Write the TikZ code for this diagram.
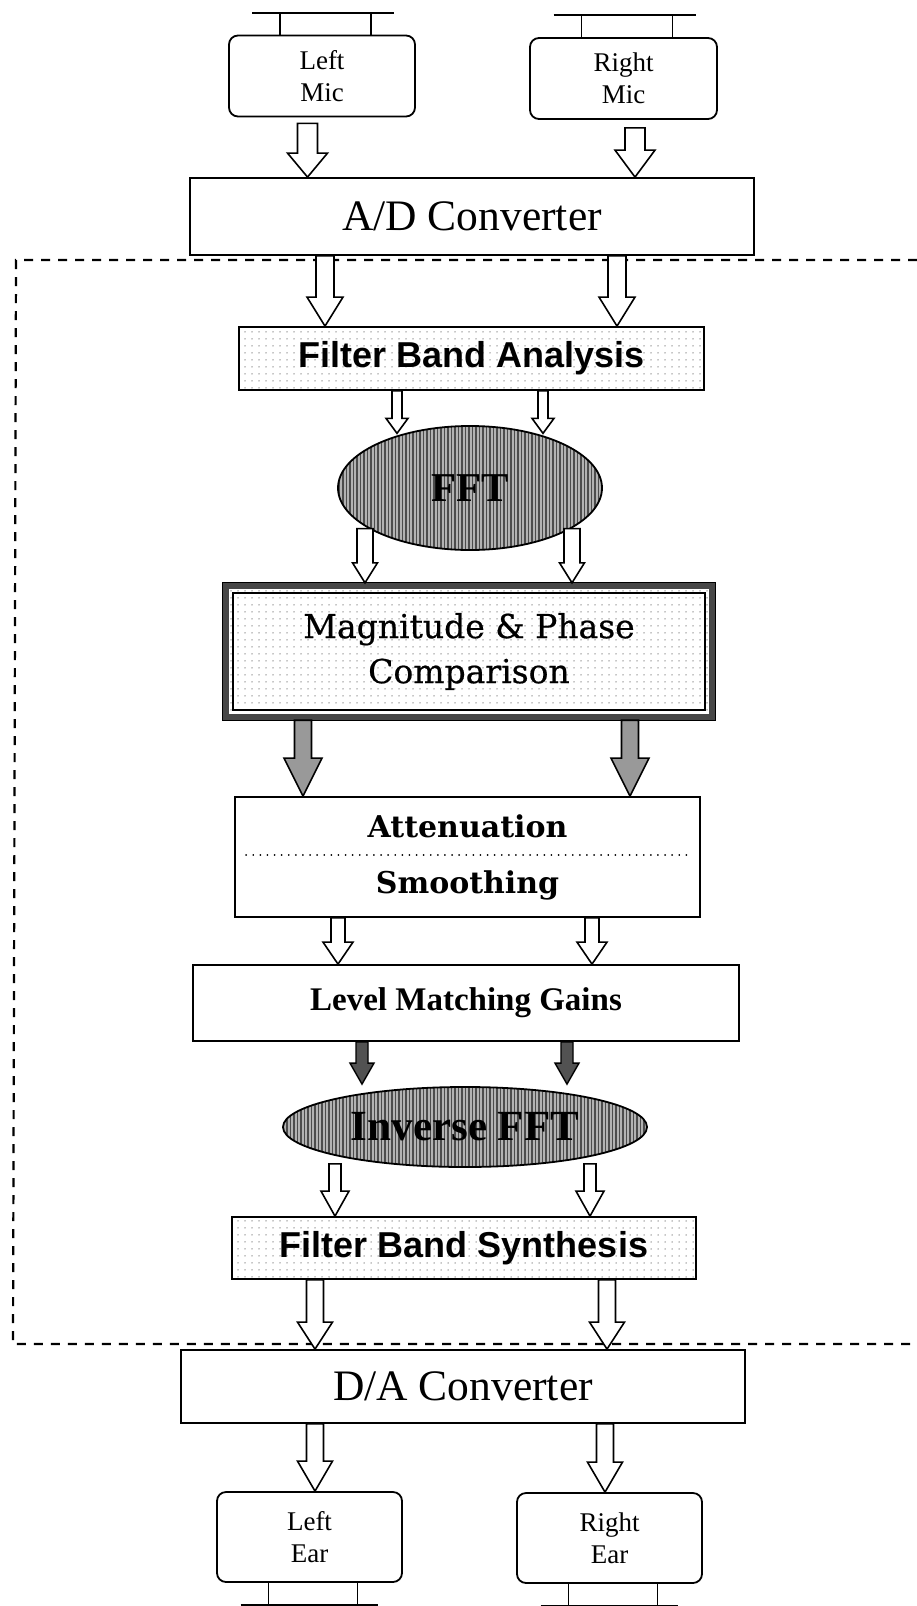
\documentclass[tikz,border=0pt]{standalone}
\usepackage{fontspec}
\setmainfont{Liberation Serif}
\newfontfamily\lsans{Liberation Sans}
\newfontfamily\dvserif{DejaVu Serif}
\newfontfamily\dvserifheavy[FakeBold=0.6]{DejaVu Serif}
\usetikzlibrary{shapes.geometric,patterns.meta,calc}
\tikzset{
  box/.style={draw, line width=1.8pt, inner sep=0pt, align=center},
  micbox/.style={box, rounded corners=9pt},
  stip/.style={pattern={Dots[distance=7pt,radius=0.75pt]}, pattern color=black!45},
  hatch/.style={preaction={fill=black!30}, pattern={Lines[angle=90,distance=3.5pt,line width=1.3pt]}, pattern color=black!70},
  whitearr/.style={draw, fill=white, line width=1.6pt},
  shadearr/.style={draw, fill=black!40, line width=1.6pt},
  darkarr/.style={draw, fill=black!68, line width=1.4pt},
  dashframe/.style={line width=2.2pt, dash pattern=on 9pt off 8pt},
  standline/.style={line width=1.8pt},
  dotline/.style={line width=1.8pt, dash pattern=on 0.1pt off 7pt, line cap=round}
}
% #1 top point, #2 tip point, #3 shaft half width, #4 head half width, #5 head length, #6 style
\newcommand{\barrow}[6]{%
  \draw[#6] let \p1=#1, \p2=#2 in
    (\x1-#3pt,\y1) -- (\x1+#3pt,\y1) -- (\x1+#3pt,\y2+#5pt) -- (\x1+#4pt,\y2+#5pt)
    -- (\x1,\y2) -- (\x1-#4pt,\y2+#5pt) -- (\x1-#3pt,\y2+#5pt) -- cycle;}
\begin{document}
\begin{tikzpicture}[x=1pt,y=-1pt]
\useasboundingbox (0,0) rectangle (917,1606);

% dashed frame
\coordinate (fr1) at (917,260);
\coordinate (fr2) at (16,260);
\coordinate (fr3) at (13,1344);
\coordinate (fr4) at (917,1344);
\draw[dashframe] (fr1) -- (fr2) -- (fr3) -- (fr4);

% microphones
\node[micbox, minimum width=186pt, minimum height=81pt, font=\fontsize{27}{32}\selectfont] (lmic) at (322,76) {Left\\Mic};
\node[micbox, minimum width=187pt, minimum height=81pt, font=\fontsize{27}{32}\selectfont] (rmic) at (623.5,78.5) {Right\\Mic};
\foreach \m in {lmic,rmic}{
  \draw[standline] ([xshift=-42pt]\m.north) -- ++(0,-22);
  \draw[standline] ([xshift=49pt]\m.north) -- ++(0,-22);
  \draw[standline] ([xshift=-70pt,yshift=22pt]\m.north) -- ([xshift=72pt,yshift=22pt]\m.north);
}

% main blocks
\node[box, fill=white, minimum width=564pt, minimum height=77pt, font=\fontsize{43.5}{50}\selectfont] (ad) at (472,216.5) {A/D Converter};
\node[box, stip, minimum width=465pt, minimum height=63pt, font=\lsans\bfseries\fontsize{36}{40}\selectfont] (fba) at (471.5,358.5) {Filter Band Analysis};
\node[draw, line width=1.8pt, ellipse, hatch, inner sep=0pt, minimum width=264pt, minimum height=124pt, font=\bfseries\fontsize{41}{46}\selectfont] (fft) at (470,488) {FFT};
\node[stip, inner sep=0pt, align=center, minimum width=492pt, minimum height=137pt, font=\dvserifheavy\fontsize{33}{45}\selectfont] (mag) at (469,651.5) {Magnitude \& Phase\\Comparison};
\draw[line width=1pt] (mag.north west) rectangle (mag.south east);
\draw[line width=6pt, black!72] ([shift={(3.5pt,-3.5pt)}]mag.north west) rectangle ([shift={(-3.5pt,3.5pt)}]mag.south east);
\draw[line width=1.5pt] ([shift={(10pt,-10pt)}]mag.north west) rectangle ([shift={(-10pt,10pt)}]mag.south east);

\node[box, minimum width=465pt, minimum height=120pt] (att) at (467.5,857) {};
\node[anchor=base, inner sep=0pt, font=\dvserif\bfseries\fontsize{30}{34}\selectfont] (attA) at (467.5,837) {Attenuation};
\node[anchor=base, inner sep=0pt, font=\dvserif\bfseries\fontsize{30}{34}\selectfont] (attB) at (467.5,893) {Smoothing};
\draw[dotline] ([xshift=12pt,yshift=2pt]att.west) -- ([xshift=-10pt,yshift=2pt]att.east);

\node[box, minimum width=546pt, minimum height=76pt, font=\bfseries\fontsize{33}{38}\selectfont] (lmg) at (466,1003) {Level Matching Gains};
\node[draw, line width=1.8pt, ellipse, hatch, inner sep=0pt, minimum width=364pt, minimum height=80pt, font=\bfseries\fontsize{43}{48}\selectfont] (ifft) at (465,1127) {Inverse FFT};
\node[box, stip, minimum width=464pt, minimum height=62pt, font=\lsans\bfseries\fontsize{36}{40}\selectfont] (fbs) at (464,1248) {Filter Band Synthesis};
\node[box, fill=white, minimum width=564pt, minimum height=73pt, font=\fontsize{43.5}{50}\selectfont] (da) at (463,1386.5) {D/A Converter};

% ears
\node[micbox, minimum width=185pt, minimum height=90pt, font=\fontsize{27}{32}\selectfont] (lear) at (309.5,1537) {Left\\Ear};
\node[micbox, minimum width=185pt, minimum height=90pt, font=\fontsize{27}{32}\selectfont] (rear) at (609.5,1538) {Right\\Ear};
\foreach \m in {lear,rear}{
  \draw[standline] ([xshift=-41pt]\m.south) -- ++(0,22);
  \draw[standline] ([xshift=48pt]\m.south) -- ++(0,22);
  \draw[standline] ([xshift=-69pt,yshift=-22pt]\m.south) -- ([xshift=68pt,yshift=-22pt]\m.south);
}

% arrows
\barrow{([xshift=-14.5pt,yshift=-6pt]lmic.south)}{(ad.north)}{10}{20}{24}{whitearr}
\barrow{([xshift=11.5pt,yshift=-8pt]rmic.south)}{(ad.north)}{10}{20}{27}{whitearr}
\barrow{([xshift=-147pt]ad.south)}{(fba.north)}{9}{18}{29}{whitearr}
\barrow{([xshift=145pt]ad.south)}{(fba.north)}{9}{18}{29}{whitearr}
\barrow{([xshift=-74.5pt]fba.south)}{([yshift=-8pt]fft.north)}{5}{11}{15}{whitearr}
\barrow{([xshift=71.5pt]fba.south)}{([yshift=-8pt]fft.north)}{5}{11}{15}{whitearr}
\barrow{([xshift=-105pt,yshift=22pt]fft.south)}{(mag.north)}{8}{12.5}{20}{whitearr}
\barrow{([xshift=102pt,yshift=22pt]fft.south)}{(mag.north)}{8}{12.5}{20}{whitearr}
\barrow{([xshift=-166pt]mag.south)}{(att.north)}{8.5}{19}{38}{shadearr}
\barrow{([xshift=161pt]mag.south)}{(att.north)}{8.5}{19}{38}{shadearr}
\barrow{([xshift=-129.5pt]att.south)}{(lmg.north)}{7}{15}{22}{whitearr}
\barrow{([xshift=124.5pt]att.south)}{(lmg.north)}{7}{15}{22}{whitearr}
\barrow{([xshift=-104pt]lmg.south)}{([yshift=2pt]ifft.north)}{6}{12}{21}{darkarr}
\barrow{([xshift=101pt]lmg.south)}{([yshift=2pt]ifft.north)}{6}{12}{21}{darkarr}
\barrow{([xshift=-130pt,yshift=4pt]ifft.south)}{(fbs.north)}{6}{14}{25}{whitearr}
\barrow{([xshift=125pt,yshift=4pt]ifft.south)}{(fbs.north)}{6}{14}{25}{whitearr}
\barrow{([xshift=-149pt]fbs.south)}{(da.north)}{8.5}{17.5}{27}{whitearr}
\barrow{([xshift=143pt]fbs.south)}{(da.north)}{8.5}{17.5}{27}{whitearr}
\barrow{([xshift=-148pt]da.south)}{(lear.north)}{8.5}{17.5}{30}{whitearr}
\barrow{([xshift=142pt]da.south)}{(rear.north)}{8.5}{17.5}{30}{whitearr}
\end{tikzpicture}
\end{document}
